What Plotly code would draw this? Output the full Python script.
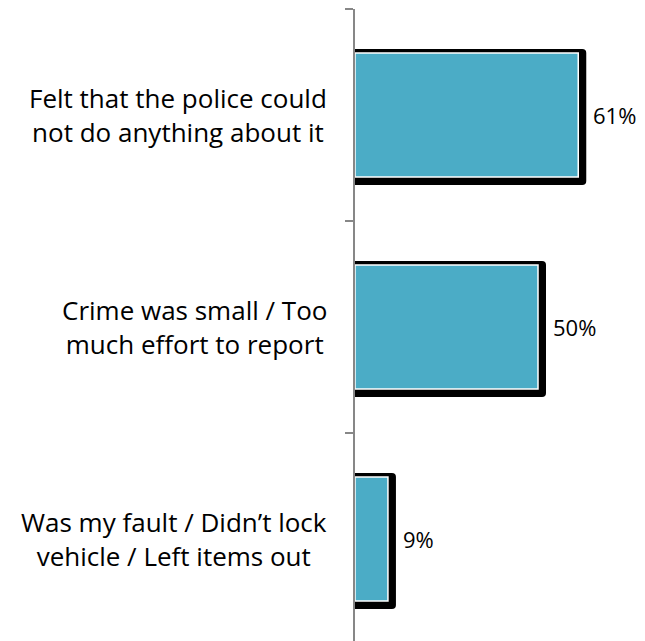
import plotly.graph_objects as go

categories = ["Felt that the police could<br>not do anything about it",
              "Crime was small / Too<br>much effort to report",
              "Was my fault / Didn\u2019t lock<br>vehicle / Left items out"]
values = [61, 50, 9]
value_labels = ["61%", "50%", "9%"]

BAR = "#4BACC6"
AXIS = "#878787"
FONT = "Open Sans"

W, H = 629, 633
L, R, T, B = 347, 622, 1, 633   # plot area in figure pixels
PX_PER_UNIT = 3.66
CAT_PX = 212

fig = go.Figure()
# shadow
fig.add_trace(go.Bar(
    y=categories, x=[v + 8 / PX_PER_UNIT for v in values], orientation="h",
    marker=dict(color="black", line=dict(width=0), cornerradius=4),
    width=0.641, offset=-0.311, hoverinfo="skip", showlegend=False))
# main bar
fig.add_trace(go.Bar(
    y=categories, x=values, orientation="h",
    marker=dict(color=BAR, line=dict(color="white", width=1.5)),
    width=0.585, offset=-0.2925, showlegend=False))

for c, v, t in zip(categories, values, value_labels):
    fig.add_annotation(x=v, y=c, xref="x", yref="y", text=t, showarrow=False,
                       xanchor="left", yanchor="middle", xshift=13,
                       font=dict(family=FONT, size=22, color="black"))
    fig.add_annotation(x=(321 - L) / (R - L), y=c, xref="paper", yref="y", text=c,
                       showarrow=False, xanchor="right", yanchor="middle", align="center",
                       font=dict(family=FONT, size=26, color="black"))

fig.update_layout(
    width=W, height=H,
    margin=dict(l=L, r=W - R, t=T, b=H - B, pad=0),
    plot_bgcolor="white", paper_bgcolor="white",
    barmode="overlay",
    xaxis=dict(range=[0, (R - L) / PX_PER_UNIT], visible=False),
    yaxis=dict(range=[-0.5 + (B - T) / CAT_PX, -0.5], type="category",
               showline=True, linecolor=AXIS, linewidth=2,
               ticks="outside", tickson="boundaries", ticklen=8,
               tickcolor=AXIS, tickwidth=2, showticklabels=False,
               showgrid=False, zeroline=False),
)
fig.write_html("out.html")
